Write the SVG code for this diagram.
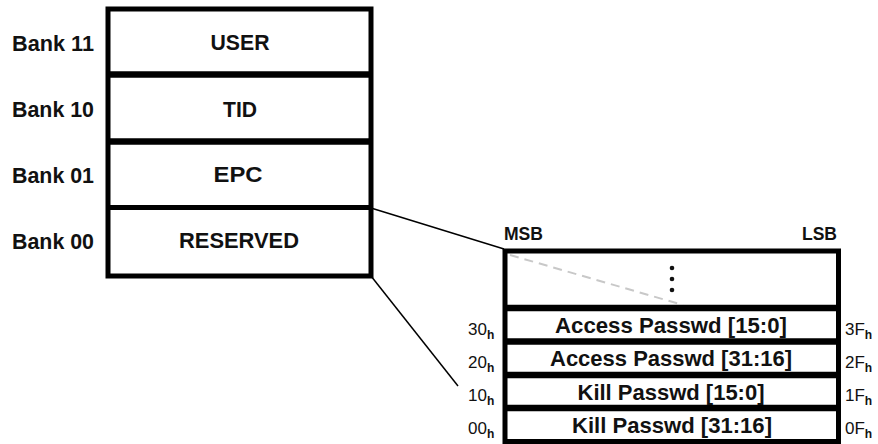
<svg xmlns="http://www.w3.org/2000/svg" width="878" height="444" viewBox="0 0 878 444">
<style>
text{font-family:"Liberation Sans",Arial,sans-serif;fill:#111}
.b{font-weight:bold;font-size:21.5px}
.r{font-weight:bold;font-size:22px}
.c{text-anchor:middle}
.hx{font-size:17px}
.sub{font-size:12px;font-weight:bold}
.box{fill:#fff;stroke:#000;stroke-width:5}
.sep{stroke:#000;stroke-width:6.5}
.conn{stroke:#000;stroke-width:1.5;fill:none}
</style>
<rect width="878" height="444" fill="#fff"/>
<g id="connectors">
<line class="conn" x1="371" y1="208" x2="504" y2="249"/>
<line class="conn" x1="371" y1="276" x2="458" y2="386"/>
</g>
<g id="banks">
<rect class="box" x="108" y="9" width="263" height="267"/>
<line class="sep" x1="108" y1="74.5" x2="371" y2="74.5"/>
<line class="sep" x1="108" y1="141.5" x2="371" y2="141.5"/>
<line x1="108" y1="207.5" x2="371" y2="207.5" stroke="#000" stroke-width="5"/>
</g>
<g id="bank11"><text class="b" x="12" y="51" textLength="82" lengthAdjust="spacingAndGlyphs">Bank 11</text><text class="b c" x="240" y="50" textLength="59" lengthAdjust="spacingAndGlyphs">USER</text></g>
<g id="bank10"><text class="b" x="12" y="117" textLength="82" lengthAdjust="spacingAndGlyphs">Bank 10</text><text class="b c" x="240" y="117" textLength="34" lengthAdjust="spacingAndGlyphs">TID</text></g>
<g id="bank01"><text class="b" x="12" y="183" textLength="82" lengthAdjust="spacingAndGlyphs">Bank 01</text><text class="b c" x="238" y="182" textLength="49" lengthAdjust="spacingAndGlyphs">EPC</text></g>
<g id="bank00"><text class="b" x="12" y="249" textLength="82" lengthAdjust="spacingAndGlyphs">Bank 00</text><text class="b c" x="239" y="248" textLength="120" lengthAdjust="spacingAndGlyphs">RESERVED</text></g>
<g id="reserved-detail">
<text x="504" y="240" font-weight="bold" font-size="17.5" textLength="39" lengthAdjust="spacingAndGlyphs">MSB</text>
<text x="802" y="240" font-weight="bold" font-size="17.5" textLength="35" lengthAdjust="spacingAndGlyphs">LSB</text>
<rect class="box" x="505" y="251" width="333.5" height="190.5"/>
<line x1="510" y1="255" x2="683" y2="305" stroke="#c8c8c8" stroke-width="2" stroke-dasharray="9,6"/>
<circle cx="672" cy="268" r="2.3" fill="#111"/>
<circle cx="672" cy="279" r="2.3" fill="#111"/>
<circle cx="672" cy="290" r="2.3" fill="#111"/>
<line class="sep" x1="505" y1="308" x2="838.5" y2="308"/>
</g>
<g id="row30">
<line class="sep" x1="505" y1="341.5" x2="838.5" y2="341.5"/>
<text class="r c" x="671" y="333" textLength="232" lengthAdjust="spacingAndGlyphs">Access Passwd [15:0]</text>
<text class="hx" x="468" y="335">30<tspan class="sub" dy="4">h</tspan></text>
<text class="hx" x="845" y="335">3F<tspan class="sub" dy="4">h</tspan></text>
</g>
<g id="row20">
<line class="sep" x1="505" y1="375" x2="838.5" y2="375"/>
<text class="r c" x="671" y="366" textLength="242" lengthAdjust="spacingAndGlyphs">Access Passwd [31:16]</text>
<text class="hx" x="468" y="368">20<tspan class="sub" dy="4">h</tspan></text>
<text class="hx" x="845" y="368">2F<tspan class="sub" dy="4">h</tspan></text>
</g>
<g id="row10">
<line class="sep" x1="505" y1="408" x2="838.5" y2="408"/>
<text class="r c" x="671" y="400" textLength="187" lengthAdjust="spacingAndGlyphs">Kill Passwd [15:0]</text>
<text class="hx" x="468" y="401">10<tspan class="sub" dy="4">h</tspan></text>
<text class="hx" x="845" y="401">1F<tspan class="sub" dy="4">h</tspan></text>
</g>
<g id="row00">
<text class="r c" x="672" y="433" textLength="200" lengthAdjust="spacingAndGlyphs">Kill Passwd [31:16]</text>
<text class="hx" x="468" y="434">00<tspan class="sub" dy="4">h</tspan></text>
<text class="hx" x="845" y="434">0F<tspan class="sub" dy="4">h</tspan></text>
</g>
</svg>
